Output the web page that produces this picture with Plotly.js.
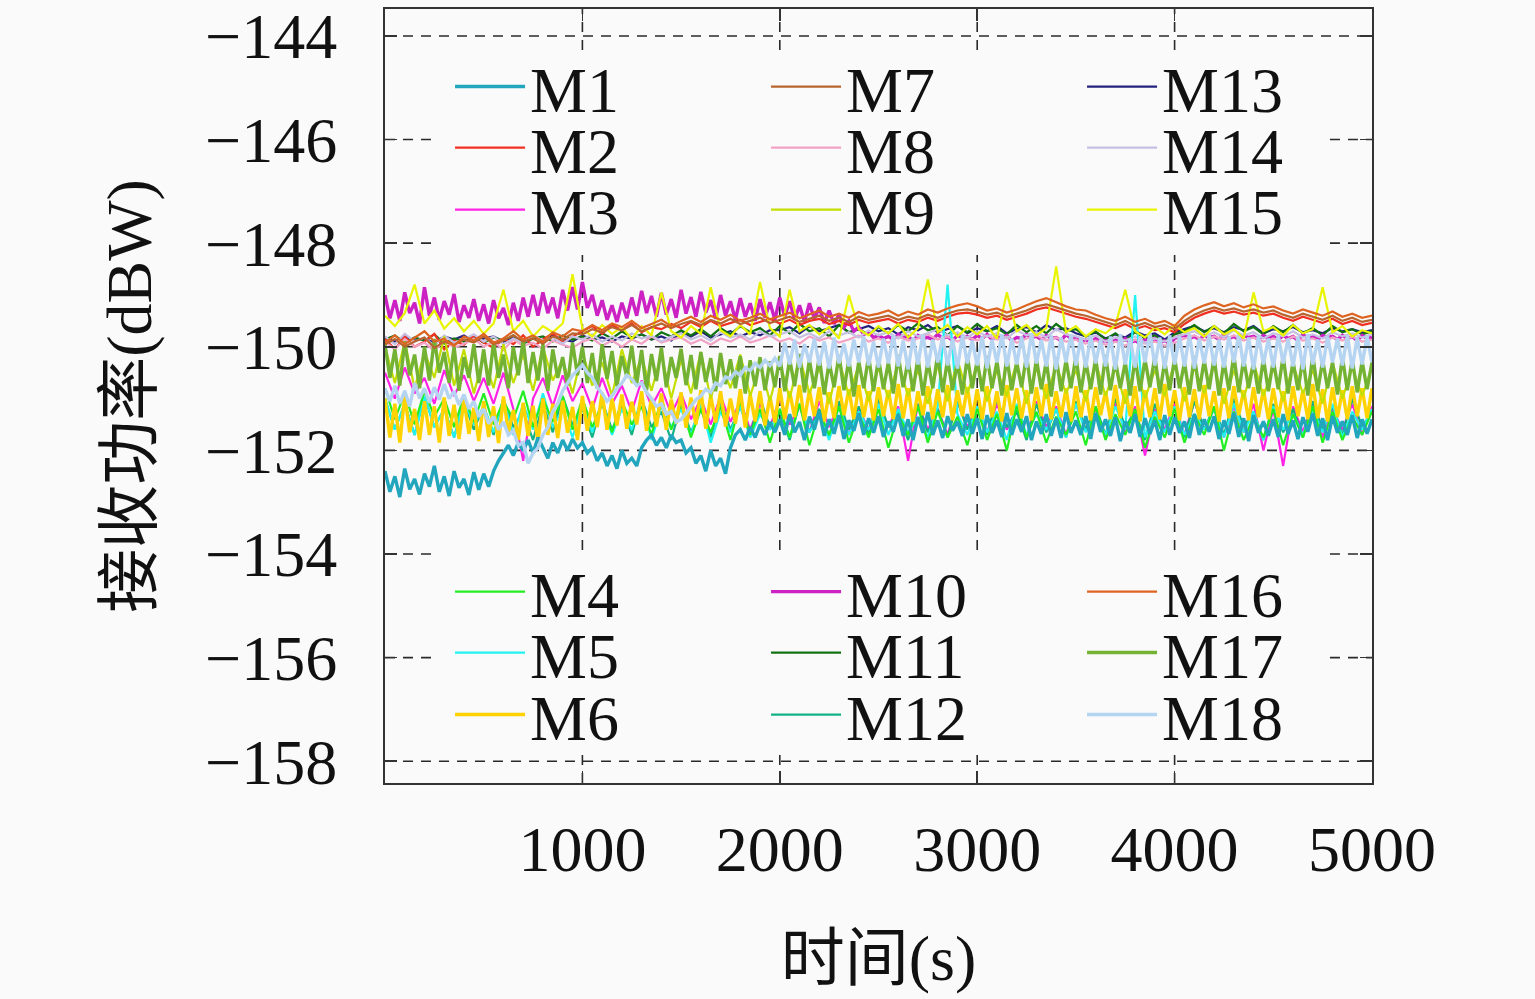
<!DOCTYPE html>
<html><head><meta charset="utf-8">
<script src="https://cdn.plot.ly/plotly-3.0.1.min.js"></script>
<style>html,body{margin:0;padding:0;background:#fafafa;}</style>
</head><body>
<div id="chart" style="width:1535px;height:999px;"></div>
<script>
// time axis: all series start at 0 s; dense series sampled every 25 s, others every 50 s
const timeStartS = 0;
const fineStepS = 25;
const coarseStepS = 50;
const fineSeries = ['M1', 'M6', 'M10', 'M17', 'M18'];
const xTickVals = [1000, 2000, 3000, 4000, 5000];
const yTickVals = [-144, -146, -148, -150, -152, -154, -156, -158];
const xRange = [0, 5000];
const yRange = [-158.42, -143.48];

// received power (dBW) per satellite
// 25 s series (201 samples, 20 per line)
const M1 = [
-152.40,-152.80,-152.50,-152.90,-152.35,-152.75,-152.55,-152.85,-152.45,-152.70,-152.30,-152.80,-152.50,-152.88,-152.40,-152.72,-152.55,-152.86,-152.42,-152.76,
-152.45,-152.70,-152.40,-152.20,-152.05,-151.90,-152.10,-151.85,-152.00,-151.80,-152.05,-151.75,-151.95,-152.15,-151.85,-152.05,-151.80,-152.00,-151.78,-151.95,
-151.85,-152.05,-151.95,-152.20,-152.05,-152.30,-152.10,-152.35,-152.00,-152.25,-152.15,-152.30,-151.95,-151.80,-151.70,-151.90,-151.75,-151.95,-151.70,-151.85,
-151.80,-152.05,-151.95,-152.25,-152.10,-152.40,-152.00,-152.30,-152.15,-152.45,-151.95,-151.70,-151.60,-151.80,-151.55,-151.75,-151.50,-151.70,-151.45,-151.65,
-151.40,-151.70,-151.30,-151.65,-151.45,-151.80,-151.35,-151.60,-151.25,-151.72,-151.40,-151.68,-151.32,-151.78,-151.42,-151.62,-151.28,-151.70,-151.38,-151.66,
-151.34,-151.74,-151.44,-151.64,-151.30,-151.72,-151.40,-151.80,-151.36,-151.66,-151.26,-151.70,-151.42,-151.76,-151.34,-151.62,-151.44,-151.72,-151.30,-151.68,
-151.38,-151.78,-151.32,-151.66,-151.42,-151.74,-151.28,-151.70,-151.40,-151.64,-151.34,-151.80,-151.44,-151.68,-151.30,-151.72,-151.38,-151.76,-151.26,-151.66,
-151.42,-151.70,-151.34,-151.78,-151.28,-151.64,-151.40,-151.72,-151.36,-151.82,-151.44,-151.66,-151.30,-151.74,-151.38,-151.68,-151.42,-151.80,-151.32,-151.70,
-151.36,-151.66,-151.44,-151.76,-151.30,-151.70,-151.40,-151.64,-151.34,-151.78,-151.42,-151.68,-151.28,-151.74,-151.38,-151.82,-151.32,-151.66,-151.44,-151.72,
-151.40,-151.74,-151.30,-151.68,-151.42,-151.78,-151.36,-151.64,-151.28,-151.72,-151.38,-151.80,-151.34,-151.66,-151.44,-151.70,-151.32,-151.76,-151.40,-151.68,
-151.40];
const M6 = [
-151.00,-151.75,-151.10,-151.85,-150.95,-151.65,-151.20,-151.80,-151.05,-151.70,-151.15,-151.85,-150.98,-151.72,-151.12,-151.78,-151.02,-151.68,-151.18,-151.82,
-151.05,-151.74,-151.15,-151.86,-150.96,-151.66,-151.22,-151.80,-151.08,-151.72,-151.14,-151.84,-151.00,-151.70,-151.10,-151.76,-151.04,-151.66,-151.16,-151.80,
-150.95,-151.62,-151.05,-151.55,-150.88,-151.60,-151.00,-151.52,-150.92,-151.58,-151.06,-151.50,-150.86,-151.62,-150.98,-151.54,-150.90,-151.60,-151.02,-151.48,
-150.88,-151.56,-150.98,-151.50,-150.84,-151.58,-150.94,-151.46,-150.86,-151.54,-151.00,-151.48,-150.82,-151.56,-150.92,-151.44,-150.86,-151.52,-150.96,-151.46,
-150.80,-151.40,-150.86,-151.36,-150.74,-151.42,-150.84,-151.34,-150.78,-151.44,-150.88,-151.38,-150.76,-151.32,-150.82,-151.40,-150.74,-151.36,-150.86,-151.42,
-150.78,-151.34,-150.84,-151.40,-150.72,-151.38,-150.80,-151.44,-150.86,-151.32,-150.76,-151.40,-150.82,-151.36,-150.74,-151.42,-150.84,-151.34,-150.78,-151.38,
-150.82,-151.40,-150.76,-151.36,-150.86,-151.44,-150.74,-151.32,-150.80,-151.38,-150.84,-151.42,-150.78,-151.34,-150.72,-151.40,-150.86,-151.36,-150.80,-151.44,
-150.76,-151.36,-150.84,-151.42,-150.78,-151.32,-150.86,-151.40,-150.74,-151.38,-150.82,-151.34,-150.76,-151.44,-150.84,-151.36,-150.80,-151.40,-150.72,-151.34,
-150.84,-151.42,-150.78,-151.36,-150.82,-151.40,-150.74,-151.34,-150.86,-151.44,-150.80,-151.38,-150.76,-151.32,-150.84,-151.42,-150.78,-151.36,-150.82,-151.40,
-150.80,-151.36,-150.86,-151.42,-150.76,-151.34,-150.84,-151.40,-150.72,-151.38,-150.82,-151.44,-150.78,-151.36,-150.84,-151.40,-150.76,-151.34,-150.80,-151.38,
-150.80];
const M10 = [
-149.00,-149.45,-149.10,-149.50,-148.95,-149.35,-149.15,-149.55,-148.85,-149.40,-149.05,-149.48,-149.12,-149.38,-148.98,-149.52,-149.20,-149.44,-149.08,-149.50,
-149.18,-149.55,-149.10,-149.45,-149.25,-149.58,-149.15,-149.50,-149.05,-149.42,-149.00,-149.40,-148.95,-149.35,-149.05,-149.45,-148.90,-149.30,-148.85,-149.28,
-148.75,-149.25,-149.00,-149.40,-149.10,-149.48,-149.20,-149.52,-149.15,-149.45,-149.05,-149.40,-148.92,-149.35,-149.02,-149.42,-148.96,-149.38,-149.08,-149.44,
-148.90,-149.36,-149.04,-149.42,-148.94,-149.34,-149.10,-149.46,-149.00,-149.40,-149.12,-149.48,-149.06,-149.42,-149.16,-149.50,-149.08,-149.44,-149.14,-149.48,
-149.05,-149.42,-149.12,-149.48,-149.20,-149.52,-149.16,-149.46,-149.24,-149.54,-149.30,-149.56,-149.38,-149.62,-149.50,-149.70,-149.62,-149.76,-149.72,-149.82,
-149.78,-149.84,-149.80,-149.86,-149.76,-149.82,-149.80,-149.88,-149.78,-149.84,-149.82,-149.86,-149.76,-149.84,-149.80,-149.88,-149.78,-149.82,-149.80,-149.86,
-149.78,-149.84,-149.76,-149.86,-149.80,-149.84,-149.78,-149.88,-149.82,-149.84,-149.76,-149.82,-149.80,-149.86,-149.78,-149.84,-149.82,-149.88,-149.76,-149.84,
-149.84,-149.90,-149.86,-149.92,-149.84,-149.90,-149.88,-149.94,-149.86,-149.90,-149.84,-149.92,-149.88,-149.94,-149.86,-149.90,-149.84,-149.92,-149.88,-149.94,
-149.84,-149.80,-149.78,-149.84,-149.80,-149.86,-149.78,-149.82,-149.80,-149.86,-149.76,-149.84,-149.80,-149.86,-149.78,-149.82,-149.80,-149.86,-149.78,-149.84,
-149.80,-149.86,-149.78,-149.84,-149.80,-149.88,-149.76,-149.84,-149.80,-149.86,-149.78,-149.82,-149.80,-149.86,-149.78,-149.84,-149.80,-149.88,-149.78,-149.84,
-149.82];
const M17 = [
-149.95,-150.60,-150.05,-150.75,-149.90,-150.55,-150.15,-150.80,-150.00,-150.65,-149.85,-150.50,-150.10,-150.70,-150.00,-150.85,-150.20,-150.60,-149.95,-150.70,
-150.05,-150.75,-149.90,-150.60,-150.15,-150.80,-150.00,-150.55,-149.88,-150.70,-150.10,-150.65,-149.95,-150.85,-150.05,-150.60,-150.20,-150.75,-149.92,-150.55,
-150.00,-150.70,-150.12,-150.80,-149.95,-150.62,-150.08,-150.76,-150.18,-150.58,-149.98,-150.72,-150.06,-150.84,-150.14,-150.66,-150.02,-150.78,-150.20,-150.60,
-150.04,-150.74,-150.16,-150.82,-150.10,-150.68,-150.22,-150.86,-150.12,-150.72,-150.24,-150.80,-150.18,-150.90,-150.26,-150.76,-150.20,-150.84,-150.28,-150.78,
-150.18,-150.86,-150.24,-150.76,-150.14,-150.88,-150.26,-150.80,-150.20,-150.92,-150.30,-150.78,-150.16,-150.84,-150.24,-150.96,-150.28,-150.80,-150.18,-150.86,
-150.22,-150.82,-150.30,-150.90,-150.16,-150.78,-150.26,-150.86,-150.20,-150.94,-150.28,-150.80,-150.14,-150.88,-150.24,-150.84,-150.30,-150.92,-150.18,-150.80,
-150.26,-150.86,-150.18,-150.80,-150.28,-150.94,-150.20,-150.84,-150.30,-150.78,-150.16,-150.90,-150.24,-150.82,-150.28,-150.96,-150.20,-150.86,-150.26,-150.80,
-150.18,-150.88,-150.28,-150.82,-150.22,-150.92,-150.16,-150.84,-150.26,-150.80,-150.30,-150.94,-150.20,-150.86,-150.24,-150.78,-150.18,-150.90,-150.28,-150.84,
-150.22,-150.80,-150.30,-150.92,-150.18,-150.86,-150.26,-150.82,-150.20,-150.94,-150.28,-150.84,-150.16,-150.88,-150.24,-150.80,-150.30,-150.90,-150.22,-150.86,
-150.26,-150.82,-150.18,-150.90,-150.28,-150.84,-150.22,-150.94,-150.16,-150.86,-150.26,-150.80,-150.30,-150.92,-150.20,-150.84,-150.24,-150.88,-150.28,-150.82,
-150.30];
const M18 = [
-150.80,-151.05,-150.75,-151.10,-150.85,-151.15,-150.70,-151.00,-150.80,-151.08,-150.78,-151.02,-150.72,-151.00,-150.86,-151.12,-150.92,-151.20,-151.05,-151.35,
-151.20,-151.48,-151.35,-151.60,-151.45,-151.70,-151.62,-151.90,-151.85,-152.25,-152.05,-151.95,-151.70,-151.55,-151.25,-151.10,-150.85,-150.70,-150.55,-150.45,
-150.35,-150.50,-150.60,-150.78,-150.90,-151.05,-150.95,-150.80,-150.70,-150.55,-150.62,-150.75,-150.70,-150.88,-151.00,-151.15,-151.10,-151.30,-151.25,-151.45,
-151.40,-151.28,-151.15,-151.02,-150.95,-150.82,-150.88,-150.70,-150.75,-150.58,-150.62,-150.48,-150.55,-150.40,-150.46,-150.32,-150.40,-150.26,-150.36,-150.22,
-150.38,-149.92,-150.34,-149.86,-150.40,-149.95,-150.30,-149.84,-150.36,-149.90,-150.42,-149.82,-150.32,-149.94,-150.38,-149.86,-150.30,-149.80,-150.36,-149.90,
-150.40,-149.84,-150.32,-149.78,-150.38,-149.88,-150.44,-149.82,-150.34,-149.76,-150.40,-149.86,-150.30,-149.80,-150.36,-149.84,-150.42,-149.78,-150.32,-149.88,
-150.36,-149.80,-150.42,-149.86,-150.30,-149.76,-150.38,-149.84,-150.34,-149.80,-150.40,-149.74,-150.32,-149.86,-150.38,-149.78,-150.44,-149.82,-150.30,-149.76,
-150.36,-149.84,-150.40,-149.78,-150.32,-149.86,-150.38,-149.80,-150.44,-149.76,-150.34,-149.84,-150.40,-149.80,-150.30,-149.74,-150.36,-149.82,-150.42,-149.78,
-150.34,-149.80,-150.38,-149.76,-150.42,-149.84,-150.32,-149.78,-150.36,-149.86,-150.40,-149.80,-150.30,-149.76,-150.38,-149.82,-150.44,-149.78,-150.34,-149.84,
-150.40,-149.78,-150.32,-149.84,-150.38,-149.80,-150.44,-149.76,-150.34,-149.86,-150.40,-149.80,-150.30,-149.84,-150.36,-149.78,-150.42,-149.82,-150.34,-149.80,
-150.30];

// 50 s series (101 samples, 10 per line)
const M2 = [
-149.85,-150.05,-149.80,-150.00,-149.90,-149.75,-150.05,-149.88,-149.96,-149.78,
-149.92,-150.02,-149.84,-149.95,-149.78,-150.00,-149.86,-149.74,-149.92,-149.80,
-149.70,-149.60,-149.75,-149.58,-149.68,-149.55,-149.72,-149.62,-149.66,-149.56,
-149.64,-149.52,-149.62,-149.50,-149.60,-149.54,-149.48,-149.58,-149.52,-149.46,
-149.55,-149.48,-149.58,-149.50,-149.46,-149.56,-149.50,-149.58,-149.48,-149.54,
-149.50,-149.46,-149.55,-149.48,-149.52,-149.44,-149.50,-149.42,-149.36,-149.34,
-149.38,-149.44,-149.40,-149.48,-149.42,-149.36,-149.28,-149.24,-149.30,-149.36,
-149.42,-149.46,-149.52,-149.58,-149.64,-149.56,-149.66,-149.60,-149.68,-149.64,
-149.72,-149.56,-149.44,-149.36,-149.30,-149.36,-149.32,-149.38,-149.34,-149.40,
-149.36,-149.44,-149.50,-149.42,-149.48,-149.54,-149.46,-149.56,-149.50,-149.58,
-149.54];
const M3 = [
-150.50,-151.00,-150.40,-150.90,-150.60,-151.10,-150.45,-150.95,-150.55,-151.05,
-150.60,-151.10,-150.50,-151.20,-152.20,-151.00,-150.60,-151.15,-150.55,-151.05,
-150.70,-151.20,-150.60,-151.10,-150.75,-151.25,-150.65,-151.15,-150.80,-151.30,
-150.90,-151.40,-151.00,-151.50,-150.95,-151.45,-151.05,-151.60,-151.10,-151.55,
-151.00,-151.50,-151.15,-151.65,-151.05,-151.55,-151.10,-151.70,-151.20,-151.60,
-151.05,-151.55,-151.15,-152.20,-151.10,-151.60,-151.20,-151.70,-151.05,-151.55,
-151.15,-151.65,-151.10,-151.60,-151.20,-151.75,-151.05,-151.55,-151.15,-151.70,
-151.10,-151.60,-151.20,-151.75,-151.05,-151.65,-151.15,-152.10,-151.20,-151.60,
-151.10,-151.70,-151.05,-151.60,-151.20,-151.75,-151.15,-151.65,-151.10,-152.00,
-151.20,-152.30,-151.15,-151.65,-151.05,-151.75,-151.20,-151.60,-151.10,-151.70,
-151.15];
const M4 = [
-150.80,-151.40,-150.90,-151.50,-150.85,-151.35,-151.00,-151.55,-150.95,-151.45,
-150.90,-151.50,-151.05,-151.40,-150.85,-151.55,-151.00,-151.45,-150.95,-151.60,
-151.00,-151.55,-151.10,-151.65,-151.05,-151.50,-151.15,-151.70,-151.00,-151.60,
-151.10,-151.75,-151.20,-151.65,-151.15,-151.80,-151.05,-151.70,-151.20,-151.85,
-151.20,-151.75,-151.10,-151.90,-151.25,-151.70,-151.15,-151.85,-151.30,-151.75,
-151.20,-151.95,-151.30,-151.70,-151.15,-151.85,-151.25,-151.75,-151.35,-151.90,
-151.20,-151.80,-151.30,-152.00,-151.15,-151.75,-151.25,-151.85,-151.35,-151.70,
-151.25,-151.90,-151.15,-151.80,-151.30,-151.70,-151.20,-151.95,-151.35,-151.75,
-151.20,-151.85,-151.30,-151.70,-151.15,-152.00,-151.25,-151.80,-151.35,-151.75,
-151.20,-151.90,-151.30,-151.75,-151.15,-151.85,-151.25,-151.80,-151.35,-151.70,
-151.25];
const M5 = [
-151.00,-151.60,-151.10,-151.70,-150.95,-151.55,-151.20,-151.75,-151.05,-151.50,
-151.15,-151.65,-151.00,-151.70,-151.10,-151.60,-150.90,-151.55,-151.20,-151.75,
-151.10,-151.65,-151.05,-151.70,-151.20,-151.60,-151.00,-151.80,-151.15,-151.55,
-151.20,-151.70,-151.10,-151.85,-151.25,-151.65,-151.15,-151.75,-151.30,-151.60,
-151.20,-151.75,-151.10,-151.65,-151.30,-151.80,-151.15,-151.70,-151.25,-151.60,
-151.10,-151.70,-151.20,-151.65,-151.35,-151.75,-151.15,-148.80,-151.30,-151.70,
-151.15,-151.65,-151.25,-151.80,-151.10,-151.70,-151.30,-151.60,-151.20,-151.75,
-151.10,-151.65,-151.30,-151.70,-151.15,-151.60,-149.00,-151.75,-151.25,-151.65,
-151.15,-151.70,-151.30,-151.60,-151.20,-151.75,-151.10,-151.65,-151.25,-151.80,
-151.15,-151.60,-151.30,-151.70,-151.20,-151.65,-151.10,-151.75,-151.25,-151.60,
-151.20];
const M7 = [
-149.95,-149.85,-150.00,-149.90,-149.82,-150.02,-149.90,-149.96,-149.86,-149.92,
-149.80,-149.95,-149.88,-149.78,-149.90,-149.84,-149.94,-149.80,-149.86,-149.74,
-149.76,-149.66,-149.72,-149.62,-149.68,-149.58,-149.70,-149.62,-149.55,-149.64,
-149.56,-149.50,-149.58,-149.48,-149.55,-149.46,-149.56,-149.50,-149.44,-149.54,
-149.48,-149.42,-149.52,-149.46,-149.40,-149.50,-149.44,-149.52,-149.42,-149.48,
-149.44,-149.40,-149.48,-149.42,-149.46,-149.38,-149.44,-149.36,-149.30,-149.28,
-149.32,-149.38,-149.34,-149.42,-149.36,-149.30,-149.22,-149.18,-149.24,-149.30,
-149.36,-149.40,-149.46,-149.52,-149.58,-149.50,-149.60,-149.54,-149.62,-149.58,
-149.66,-149.50,-149.38,-149.30,-149.24,-149.30,-149.26,-149.32,-149.28,-149.34,
-149.30,-149.38,-149.44,-149.36,-149.42,-149.48,-149.40,-149.50,-149.44,-149.52,
-149.48];
const M8 = [
-149.90,-150.05,-149.85,-150.00,-149.92,-150.08,-149.88,-150.02,-149.94,-149.84,
-150.00,-149.90,-150.06,-149.86,-149.98,-149.92,-150.04,-149.88,-149.96,-150.02,
-149.90,-149.84,-149.98,-149.88,-150.00,-149.86,-149.94,-149.80,-149.92,-149.86,
-149.82,-149.94,-149.86,-149.96,-149.84,-149.90,-149.80,-149.92,-149.86,-149.78,
-149.90,-149.84,-149.94,-149.80,-149.88,-149.82,-149.92,-149.86,-149.78,-149.90,
-149.84,-149.92,-149.80,-149.88,-149.84,-149.76,-149.86,-149.80,-149.90,-149.82,
-149.88,-149.78,-149.86,-149.80,-149.92,-149.84,-149.78,-149.88,-149.82,-149.90,
-149.86,-149.94,-149.88,-149.96,-149.90,-149.98,-149.86,-149.94,-149.90,-149.98,
-149.92,-149.84,-149.78,-149.88,-149.80,-149.86,-149.78,-149.88,-149.82,-149.90,
-149.84,-149.90,-149.80,-149.88,-149.84,-149.92,-149.82,-149.88,-149.80,-149.90,
-149.86];
const M9 = [
-150.00,-150.70,-149.90,-150.80,-150.10,-150.60,-149.80,-150.75,-150.05,-150.90,
-150.20,-150.80,-149.95,-150.70,-150.15,-150.85,-150.00,-150.65,-150.25,-150.90,
-150.10,-150.75,-150.30,-150.95,-150.05,-150.70,-150.20,-150.85,-150.15,-151.00,
-150.25,-150.90,-150.10,-151.00,-150.30,-150.80,-150.15,-150.95,-150.35,-151.05,
-150.30,-151.00,-150.20,-150.90,-150.40,-151.10,-150.25,-150.95,-150.35,-151.05,
-150.40,-151.00,-150.30,-150.95,-150.45,-151.10,-150.35,-151.05,-150.25,-150.90,
-150.35,-151.05,-150.45,-150.95,-150.30,-151.10,-150.40,-151.00,-150.35,-150.90,
-150.45,-151.05,-150.30,-150.95,-150.40,-151.10,-150.35,-151.00,-150.45,-150.95,
-150.30,-151.05,-150.40,-150.90,-150.35,-151.10,-150.45,-151.00,-150.30,-150.95,
-150.40,-151.05,-150.35,-150.90,-150.45,-151.10,-150.30,-151.00,-150.40,-150.95,
-150.40];
const M11 = [
-149.86,-149.78,-149.92,-149.82,-149.88,-149.76,-149.94,-149.84,-149.90,-149.80,
-149.92,-149.82,-149.88,-149.78,-149.94,-149.84,-149.80,-149.90,-149.78,-149.86,
-149.80,-149.88,-149.74,-149.84,-149.70,-149.82,-149.76,-149.86,-149.72,-149.80,
-149.68,-149.78,-149.66,-149.80,-149.64,-149.76,-149.60,-149.72,-149.64,-149.78,
-149.60,-149.74,-149.56,-149.70,-149.64,-149.80,-149.58,-149.72,-149.66,-149.76,
-149.62,-149.74,-149.58,-149.70,-149.55,-149.68,-149.62,-149.78,-149.60,-149.72,
-149.56,-149.70,-149.64,-149.76,-149.58,-149.72,-149.60,-149.74,-149.56,-149.70,
-149.66,-149.80,-149.70,-149.86,-149.74,-149.88,-149.72,-149.84,-149.78,-149.90,
-149.76,-149.70,-149.58,-149.72,-149.60,-149.74,-149.56,-149.70,-149.62,-149.76,
-149.60,-149.72,-149.58,-149.74,-149.64,-149.78,-149.60,-149.72,-149.66,-149.76,
-149.70];
const M12 = [
-151.00,-151.60,-151.10,-151.70,-150.95,-151.55,-151.20,-151.75,-151.05,-151.60,
-151.15,-151.70,-151.00,-151.55,-151.25,-151.80,-151.10,-151.65,-150.95,-151.50,
-151.20,-151.75,-151.05,-151.60,-151.15,-151.70,-151.00,-151.55,-151.25,-151.80,
-151.10,-151.65,-151.20,-151.75,-151.05,-151.60,-151.15,-151.70,-151.00,-151.55,
-151.25,-151.80,-151.10,-151.65,-151.20,-151.75,-151.05,-151.60,-151.15,-151.70,
-151.00,-151.55,-151.25,-151.80,-151.10,-151.65,-151.20,-151.75,-151.05,-151.60,
-151.15,-151.70,-151.00,-151.55,-151.25,-151.80,-151.10,-151.65,-151.20,-151.75,
-151.05,-151.60,-151.15,-151.70,-151.00,-151.55,-151.25,-151.80,-151.10,-151.65,
-151.20,-151.75,-151.05,-151.60,-151.15,-151.70,-151.00,-151.55,-151.25,-151.80,
-151.10,-151.65,-151.20,-151.75,-151.05,-151.60,-151.15,-151.70,-151.00,-151.55,
-151.25];
const M13 = [
-149.82,-149.90,-149.80,-149.88,-149.84,-149.92,-149.80,-149.86,-149.78,-149.90,
-149.84,-149.80,-149.90,-149.82,-149.92,-149.80,-149.88,-149.78,-149.86,-149.90,
-149.78,-149.86,-149.82,-149.90,-149.80,-149.84,-149.76,-149.86,-149.80,-149.88,
-149.72,-149.80,-149.70,-149.82,-149.76,-149.70,-149.80,-149.72,-149.78,-149.68,
-149.68,-149.62,-149.74,-149.60,-149.70,-149.64,-149.58,-149.72,-149.66,-149.60,
-149.70,-149.64,-149.76,-149.62,-149.68,-149.58,-149.72,-149.66,-149.60,-149.74,
-149.64,-149.70,-149.60,-149.74,-149.66,-149.62,-149.72,-149.58,-149.68,-149.64,
-149.74,-149.80,-149.72,-149.84,-149.76,-149.82,-149.70,-149.78,-149.74,-149.86,
-149.72,-149.66,-149.60,-149.70,-149.64,-149.72,-149.62,-149.68,-149.60,-149.74,
-149.66,-149.70,-149.62,-149.72,-149.68,-149.74,-149.64,-149.70,-149.66,-149.72,
-149.68];
const M14 = [
-149.80,-149.95,-149.75,-149.90,-149.82,-149.98,-149.78,-149.92,-149.86,-149.76,
-149.90,-149.80,-149.96,-149.84,-149.92,-149.78,-149.88,-149.82,-149.94,-149.80,
-149.86,-149.76,-149.90,-149.80,-149.88,-149.74,-149.84,-149.78,-149.90,-149.80,
-149.74,-149.86,-149.78,-149.88,-149.72,-149.82,-149.76,-149.86,-149.70,-149.80,
-149.76,-149.70,-149.82,-149.74,-149.84,-149.70,-149.78,-149.72,-149.82,-149.68,
-149.78,-149.72,-149.84,-149.70,-149.80,-149.74,-149.66,-149.78,-149.72,-149.82,
-149.70,-149.80,-149.74,-149.84,-149.68,-149.78,-149.72,-149.82,-149.66,-149.76,
-149.80,-149.86,-149.78,-149.90,-149.82,-149.88,-149.80,-149.92,-149.84,-149.90,
-149.82,-149.76,-149.70,-149.80,-149.72,-149.82,-149.68,-149.78,-149.72,-149.84,
-149.74,-149.80,-149.70,-149.82,-149.76,-149.84,-149.72,-149.80,-149.74,-149.82,
-149.76];
const M15 = [
-149.40,-149.60,-149.35,-148.80,-149.55,-149.30,-149.65,-149.45,-149.70,-149.50,
-149.75,-149.55,-148.90,-149.70,-149.50,-149.80,-149.60,-149.72,-149.55,-148.60,
-149.65,-149.80,-149.58,-149.75,-149.62,-149.85,-149.60,-149.78,-148.95,-149.70,
-149.82,-149.60,-149.75,-148.85,-149.68,-149.80,-149.58,-149.76,-148.75,-149.64,
-149.80,-148.90,-149.70,-149.58,-149.76,-149.62,-149.84,-149.00,-149.66,-149.78,
-149.60,-149.74,-149.56,-149.82,-149.64,-148.70,-149.72,-149.58,-149.80,-149.62,
-149.76,-149.60,-149.84,-148.95,-149.70,-149.58,-149.78,-149.64,-148.45,-149.72,
-149.60,-149.80,-149.66,-149.74,-149.58,-148.90,-149.70,-149.82,-149.62,-149.76,
-149.58,-149.72,-149.64,-149.80,-149.60,-149.76,-149.66,-149.84,-148.95,-149.70,
-149.62,-149.78,-149.58,-149.74,-149.66,-148.85,-149.72,-149.60,-149.80,-149.68,
-149.74];
const M16 = [
-149.92,-149.78,-149.95,-149.82,-149.70,-149.90,-149.85,-149.98,-149.80,-149.88,
-149.75,-149.92,-149.84,-149.70,-149.86,-149.78,-149.90,-149.72,-149.80,-149.66,
-149.70,-149.58,-149.68,-149.55,-149.62,-149.50,-149.64,-149.56,-149.48,-149.60,
-149.50,-149.42,-149.52,-149.40,-149.48,-149.38,-149.50,-149.44,-149.36,-149.47,
-149.40,-149.34,-149.45,-149.38,-149.30,-149.42,-149.36,-149.44,-149.33,-149.40,
-149.36,-149.30,-149.40,-149.32,-149.38,-149.28,-149.34,-149.26,-149.20,-149.16,
-149.22,-149.30,-149.26,-149.34,-149.28,-149.20,-149.12,-149.06,-149.14,-149.22,
-149.28,-149.30,-149.38,-149.45,-149.50,-149.42,-149.52,-149.46,-149.55,-149.50,
-149.60,-149.40,-149.28,-149.20,-149.14,-149.22,-149.16,-149.24,-149.18,-149.26,
-149.22,-149.30,-149.36,-149.28,-149.34,-149.40,-149.32,-149.42,-149.36,-149.44,
-149.40];

const seriesData = {M1, M2, M3, M4, M5, M6, M7, M8, M9, M10, M11, M12, M13, M14, M15, M16, M17, M18};
const seriesColors = {
  M1:'#22a6be', M2:'#f03020', M3:'#ff22e6', M4:'#22ee22', M5:'#22f2f2', M6:'#ffd200',
  M7:'#b8642e', M8:'#f2a2c4', M9:'#c4de00', M10:'#cc22c4', M11:'#127212', M12:'#12b284',
  M13:'#22227e', M14:'#c6c0e2', M15:'#e8f400', M16:'#de6422', M17:'#74b234', M18:'#b4d4f2'
};
// drawing order, bottom to top
const drawOrder = ['M13','M11','M10','M2','M8','M14','M3','M12','M5','M4','M6','M1','M9','M17','M18','M15','M7','M16'];

const FONT = 'Liberation Serif, Noto Sans CJK SC, serif';
const legendIds = ['legend','legend2','legend3','legend4','legend5','legend6'];

const traces = drawOrder.map(name => {
  const n = parseInt(name.slice(1), 10);
  const group = Math.floor((n - 1) / 3);
  const row = (n - 1) % 3;
  const block = group % 2;
  const fine = fineSeries.includes(name);
  return {
    type: 'scatter', mode: 'lines', name: name,
    x0: timeStartS, dx: fine ? fineStepS : coarseStepS,
    y: seriesData[name],
    line: {color: seriesColors[name], width: fine ? 3.4 : 2.2},
    legend: legendIds[block * 3 + row],
    legendrank: n,
    hoverinfo: 'skip'
  };
});

// legend panels (paper fractions of the plot area) hide the grid behind them
const legendPanels = [
  {x0: 0.0507, x1: 0.9574, y0: 0.6822, y1: 0.9470},
  {x0: 0.0507, x1: 0.9574, y0: 0.0362, y1: 0.3010}
];
const gridLine = {color: '#2a2a2a', width: 1.6, dash: '10px,8px'};
const gridShapes = [];
yTickVals.forEach(v => {
  const p = (v - yRange[0]) / (yRange[1] - yRange[0]);
  const panel = legendPanels.find(b => p > b.y0 && p < b.y1);
  const spans = panel ? [[0, panel.x0], [panel.x1, 1]] : [[0, 1]];
  spans.forEach(s => gridShapes.push({type: 'line', xref: 'paper', yref: 'y',
    x0: s[0], x1: s[1], y0: v, y1: v, line: gridLine, layer: 'below'}));
});
const ySpans = [[0, legendPanels[1].y0], [legendPanels[1].y1, legendPanels[0].y0], [legendPanels[0].y1, 1]];
xTickVals.filter(v => v < xRange[1]).forEach(v => {
  ySpans.forEach(s => gridShapes.push({type: 'line', xref: 'x', yref: 'paper',
    x0: v, x1: v, y0: s[0], y1: s[1], line: gridLine, layer: 'below'}));
});

const rowCentersPaper = [0.8993, 0.8205, 0.7404, 0.2468, 0.1680, 0.0879];
const axisCommon = {
  ticks: 'inside', ticklen: 12, tickwidth: 1.5, tickcolor: '#333',
  showline: true, linecolor: '#333', linewidth: 2, mirror: 'ticks',
  showgrid: false, zeroline: false, automargin: false,
  tickfont: {family: FONT, size: 64, color: '#111'}
};
const layout = {
  width: 1535, height: 999,
  paper_bgcolor: '#fafafa', plot_bgcolor: '#fafafa',
  margin: {l: 385, r: 163, t: 9, b: 216},
  font: {family: FONT, size: 64, color: '#111'},
  xaxis: Object.assign({}, axisCommon, {
    range: xRange, tickvals: xTickVals, ticklabelstandoff: 9,
    title: {text: '时间(s)', font: {family: FONT, size: 64, color: '#111'}, standoff: 51}
  }),
  yaxis: Object.assign({}, axisCommon, {
    range: yRange, tickvals: yTickVals, ticklabelstandoff: 33,
    title: {text: '接收功率(dBW)', font: {family: FONT, size: 64, color: '#111'}, standoff: 33}
  }),
  shapes: gridShapes,
  showlegend: true
};
legendIds.forEach((id, k) => {
  layout[id] = {
    orientation: 'h', x: 0.0659, xanchor: 'left', y: rowCentersPaper[k], yanchor: 'middle',
    bgcolor: 'rgba(0,0,0,0)', borderwidth: 0, itemwidth: 70, entrywidth: 231,
    font: {family: FONT, size: 64, color: '#111'}, tracegroupgap: 0, itemclick: false
  };
});

Plotly.newPlot('chart', traces, layout, {displayModeBar: false, staticPlot: true});
</script>
</body></html>
